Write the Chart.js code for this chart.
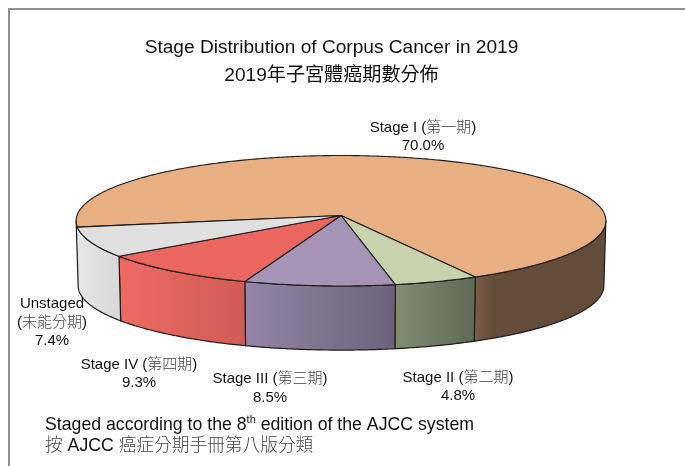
<!DOCTYPE html>
<html>
<head>
<meta charset="utf-8">
<style>
  html, body { margin: 0; padding: 0; background: #fff; }
  canvas { display: block; }
</style>
<script src="https://cdn.jsdelivr.net/npm/chart.js@4"></script>
</head>
<body>
<canvas id="miGrafica" width="685" height="466"></canvas>
<script>
"use strict";
// datos
const categories = ["Stage I (第一期)", "Stage II (第二期)", "Stage III (第三期)", "Stage IV (第四期)", "Unstaged (未能分期)"];
const values = [70.0, 4.8, 8.5, 9.3, 7.4];
const titleLines = ["Stage Distribution of Corpus Cancer in 2019", "2019年子宮體癌期數分佈"];
const noteLines = ["Staged according to the ", "8", "th", " edition of the AJCC system", "按 AJCC 癌症分期手冊第八版分類"];

const topColors = ["#E8AF82", "#C6D3AD", "#A594B6", "#EC6660", "#E0E0E0"];
const wallLeft = ["#7A5E46", "#808D72", "#9484A5", "#EE6A63", "#E6E6E6"];
const wallRight = ["#634C39", "#5F6B55", "#6C637B", "#CF5C56", "#D8D8D8"];

const latin = '"Liberation Sans"';
const cjk = '"Noto Sans CJK TC"';

// perspectiva del disco
const pie = { cx: 341, cy: 215.5, ax: 264, ay: 64.8, p: 0.0805, depth: 65, bx: 262, by: 64 };

function project(a, cy, ax, ay) {
    const w = 1 - pie.p * Math.sin(a);
    return [pie.cx + ax * Math.cos(a) / w, cy + ay * Math.sin(a) / w];
}

function wallPiece(ctx, from, to, i, bw) {
    // los trozos casi invisibles no se pintan
    if (to - from < 0.12) return;
    const n = Math.ceil((to - from) / 0.01);
    const topRim = [], bottomRim = [];
    for (let k = 0; k <= n; k++) {
        const a = from + (to - from) * k / n;
        topRim.push(project(a, pie.cy, pie.ax, pie.ay));
        bottomRim.push(project(a, pie.cy + pie.depth, pie.bx, pie.by));
    }
    ctx.beginPath();
    topRim.forEach(function (q, k) { k ? ctx.lineTo(q[0], q[1]) : ctx.moveTo(q[0], q[1]); });
    bottomRim.reverse().forEach(function (q) { ctx.lineTo(q[0], q[1]); });
    ctx.closePath();
    // en pantalla el angulo crece de derecha a izquierda en el frente
    const xl = topRim[n][0], xr = topRim[0][0];
    const g = ctx.createLinearGradient(xl, 0, xr, 0);
    g.addColorStop(0, wallLeft[i]);
    if (i === 0) {
        g.addColorStop(0.14, wallRight[i]);
    }
    g.addColorStop(1, wallRight[i]);
    ctx.fillStyle = g;
    ctx.fill();
    ctx.lineWidth = bw;
    ctx.strokeStyle = "#1c1c1c";
    ctx.stroke();
}

// pinta los sectores en 3D a partir de los angulos que calcula Chart.js
const pie3d = {
    id: "pie3d",
    beforeDatasetDraw(chart) {
        const ctx = chart.ctx;
        const arcs = chart.getDatasetMeta(0).data;
        const limit = Math.asin(pie.p);
        ctx.save();
        ctx.lineJoin = "round";
        arcs.forEach(function (arc, i) {
            const s = arc.startAngle;
            // el ultimo sector llega hasta el borde izquierdo visible
            const e = i === arcs.length - 1 ? Math.max(arc.endAngle, 3 * Math.PI - limit) : arc.endAngle;
            for (let turn = -1; turn <= 1; turn++) {
                const lo = limit + turn * 2 * Math.PI;
                const hi = Math.PI - limit + turn * 2 * Math.PI;
                wallPiece(ctx, Math.max(s, lo), Math.min(e, hi), i, 1.2);
            }
        });
        arcs.forEach(function (arc) {
            const s = arc.startAngle, e = arc.endAngle;
            const n = Math.ceil((e - s) / 0.01);
            ctx.beginPath();
            ctx.moveTo(pie.cx, pie.cy);
            for (let k = 0; k <= n; k++) {
                const q = project(s + (e - s) * k / n, pie.cy, pie.ax, pie.ay);
                ctx.lineTo(q[0], q[1]);
            }
            ctx.closePath();
            ctx.fillStyle = arc.options.backgroundColor;
            ctx.fill();
            ctx.lineWidth = 1.1;
            ctx.strokeStyle = "#1c1c1c";
            ctx.stroke();
        });
        ctx.restore();
        return false;
    }
};

// texto con partes latinas y CJK
function runs(text) {
    return text.match(/[\u3000-\u9fff]+|[^\u3000-\u9fff]+/g);
}

function mixedText(ctx, text, x, y, size, centered) {
    const parts = runs(text);
    let w = 0;
    parts.forEach(function (t) {
        const isCjk = /[\u3000-\u9fff]/.test(t);
        ctx.font = (isCjk ? "300 " : "") + size + "px " + (isCjk ? cjk : latin);
        w += ctx.measureText(t).width;
    });
    let px = centered ? x - w / 2 : x;
    parts.forEach(function (t) {
        const isCjk = /[\u3000-\u9fff]/.test(t);
        ctx.font = (isCjk ? "300 " : "") + size + "px " + (isCjk ? cjk : latin);
        ctx.fillStyle = isCjk ? "#444" : "#111";
        ctx.fillText(t, px, y);
        px += ctx.measureText(t).width;
    });
    return px;
}

function pct(v) { return v.toFixed(1) + "%"; }

const textLayer = {
    id: "textLayer",
    afterDraw(chart) {
        const ctx = chart.ctx;
        ctx.save();
        ctx.textBaseline = "alphabetic";
        ctx.textAlign = "left";

        // marco
        ctx.strokeStyle = "#8f8f8f";
        ctx.lineWidth = 2;
        ctx.beginPath();
        ctx.moveTo(9, 466);
        ctx.lineTo(9, 9);
        ctx.lineTo(685, 9);
        ctx.stroke();

        // etiquetas de cada sector
        mixedText(ctx, categories[0], 423, 131.5, 15, true);
        mixedText(ctx, pct(values[0]), 423, 150, 15, true);
        mixedText(ctx, categories[1], 458, 381.5, 15, true);
        mixedText(ctx, pct(values[1]), 458, 400, 15, true);
        mixedText(ctx, categories[2], 270, 382.5, 15, true);
        mixedText(ctx, pct(values[2]), 270, 401.5, 15, true);
        mixedText(ctx, categories[3], 139, 368.5, 15, true);
        mixedText(ctx, pct(values[3]), 139, 387, 15, true);
        const un = categories[4].split(" ");
        mixedText(ctx, un[0], 52, 308, 15, true);
        mixedText(ctx, un[1], 52, 327, 15, true);
        mixedText(ctx, pct(values[4]), 52, 345, 15, true);

        // nota al pie
        let x = mixedText(ctx, noteLines[0], 45, 429.5, 17.7, false);
        x = mixedText(ctx, noteLines[1], x, 429.5, 17.7, false);
        x = mixedText(ctx, noteLines[2], x, 423, 11, false);
        mixedText(ctx, noteLines[3], x, 429.5, 17.7, false);
        mixedText(ctx, noteLines[4], 45, 451, 17.7, false);
        ctx.restore();
    }
};

const chart = new Chart(document.getElementById("miGrafica"), {
    type: "pie",
    data: {
        labels: categories,
        datasets: [{
            data: values,
            backgroundColor: topColors,
            borderColor: "#1c1c1c",
            borderWidth: 1
        }]
    },
    options: {
        responsive: false,
        animation: false,
        rotation: 259.8,
        layout: { padding: { right: 22 } },
        plugins: {
            legend: { display: false },
            tooltip: { enabled: false },
            title: {
                display: true,
                fullSize: false,
                text: titleLines,
                color: "#111",
                font: { family: latin + "," + cjk, size: 19.1, weight: "normal", lineHeight: 1.5 },
                padding: { top: 33, bottom: 0 }
            }
        }
    },
    plugins: [pie3d, textLayer]
});
</script>
</body>
</html>
